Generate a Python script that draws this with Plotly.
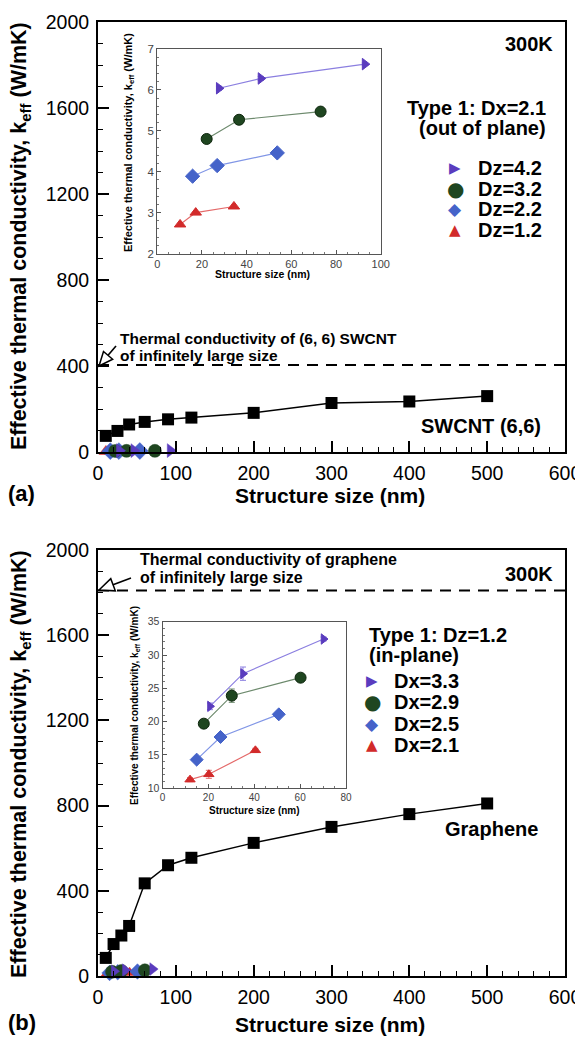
import plotly.graph_objects as go
import math

# ---------------- data ----------------
swcnt_size = [10, 25, 40, 60, 90, 120, 200, 300, 400, 500]
swcnt_k = [75, 98, 128, 140, 152, 160, 182, 228, 235, 260]
swcnt_inf = 405

graphene_size = [10, 20, 30, 40, 60, 90, 120, 200, 300, 400, 500]
graphene_k = [85, 150, 190, 235, 435, 520, 555, 625, 700, 760, 810]
graphene_inf = 1810

# inset (a): Type 1, Dx=2.1 (out of plane)
dz42_size = [27.6, 46.3, 92.9]
dz42_k = [6.04, 6.28, 6.63]
dz42_err = [0.05, 0.05, 0.03]
dz32_size = [22.1, 36.6, 73.1]
dz32_k = [4.80, 5.27, 5.47]
dz22_size = [15.8, 26.8, 53.7]
dz22_k = [3.89, 4.15, 4.46]
dz12_size = [10.2, 17.2, 34.3]
dz12_k = [2.71, 3.00, 3.15]

# inset (b): Type 1, Dz=1.2 (in-plane)
dx33_size = [20.7, 35.1, 70.2]
dx33_k = [22.3, 27.2, 32.4]
dx33_err = [0.5, 1.0, 0.3]
dx29_size = [18.0, 30.2, 60.2]
dx29_k = [19.7, 23.9, 26.6]
dx29_err = [0.3, 1.0, 0.3]
dx25_size = [14.9, 25.3, 50.7]
dx25_k = [14.3, 17.7, 21.1]
dx25_err = [0.3, 0.3, 0.3]
dx21_size = [12.0, 20.2, 40.5]
dx21_k = [11.3, 12.1, 15.7]
dx21_err = [0.3, 0.6, 0.3]

labels_a = ["Dz=4.2", "Dz=3.2", "Dz=2.2", "Dz=1.2"]
labels_b = ["Dx=3.3", "Dx=2.9", "Dx=2.5", "Dx=2.1"]

# ---------------- styles ----------------
PURPLE, PURPLE_L = "#5a3cbe", "#8b7fe0"
GREEN, GREEN_L = "#1f4620", "#6d8a6d"
BLUE, BLUE_L = "#4563c9", "#8196e6"
RED, RED_L = "#d22a2a", "#e46a6a"

OFF = 8  # page body margin
W, H = 583 - OFF, 1039 - OFF
ML, MR, MT, MB = 98 - OFF, 18, 22 - OFF, 63
PW = W - ML - MR
PH = H - MT - MB
FONT = "Liberation Sans, Arial, sans-serif"


def px(x):
    return (x - OFF - ML) / PW


def py(y):
    return (H - MB - (y - OFF)) / PH


fig = go.Figure()

series_a = [
    (dz42_size, dz42_k, PURPLE, PURPLE_L, "triangle-right", 10, dz42_err),
    (dz32_size, dz32_k, GREEN, GREEN_L, "circle", 11, None),
    (dz22_size, dz22_k, BLUE, BLUE_L, "diamond", 11, None),
    (dz12_size, dz12_k, RED, RED_L, "triangle-up", 10, None),
]
series_b = [
    (dx33_size, dx33_k, PURPLE, PURPLE_L, "triangle-right", 9, dx33_err),
    (dx29_size, dx29_k, GREEN, GREEN_L, "circle", 11, dx29_err),
    (dx25_size, dx25_k, BLUE, BLUE_L, "diamond", 10, dx25_err),
    (dx21_size, dx21_k, RED, RED_L, "triangle-up", 9, dx21_err),
]

# ---- panel (a) main ----
for xs, ys, c, cl, sym, sz, err in reversed(series_a):
    fig.add_trace(go.Scatter(x=xs, y=ys, mode="markers", xaxis="x", yaxis="y",
                             cliponaxis=False,
                             marker=dict(symbol=sym, size=sz + 2, color=c,
                                         line=dict(color=c, width=0.5))))
fig.add_trace(go.Scatter(x=swcnt_size, y=swcnt_k, mode="lines+markers", xaxis="x", yaxis="y",
                         line=dict(color="black", width=1.5), cliponaxis=False,
                         marker=dict(symbol="square", size=12, color="black")))

# ---- panel (b) main ----
fig.add_trace(go.Scatter(x=graphene_size, y=graphene_k, mode="lines+markers", xaxis="x2", yaxis="y2",
                         line=dict(color="black", width=1.5), cliponaxis=False,
                         marker=dict(symbol="square", size=12, color="black")))
for xs, ys, c, cl, sym, sz, err in reversed(series_b):
    fig.add_trace(go.Scatter(x=xs, y=ys, mode="markers", xaxis="x2", yaxis="y2",
                             cliponaxis=False,
                             marker=dict(symbol=sym, size=sz + 2, color=c,
                                         line=dict(color=c, width=0.5))))

# ---- insets ----
for (series, xa, ya) in [(series_a, "x3", "y3"), (series_b, "x4", "y4")]:
    for xs, ys, c, cl, sym, sz, err in series:
        ey = None
        if err is not None:
            ey = dict(type="data", array=err, visible=True, color=cl, thickness=1, width=3)
        fig.add_trace(go.Scatter(x=xs, y=ys, mode="lines+markers", xaxis=xa, yaxis=ya,
                                 error_y=ey, cliponaxis=False,
                                 line=dict(color=cl, width=1.2),
                                 marker=dict(symbol=sym, size=sz, color=c,
                                             line=dict(color="#0d260d" if c == GREEN else c, width=1))))


def main_axis(domain, anchor, rng, dtick, minor_dtick):
    return dict(domain=domain, anchor=anchor, range=rng, dtick=dtick, tick0=0,
                showline=True, linewidth=2, linecolor="black", mirror=True,
                ticks="inside", ticklen=11, tickwidth=2, tickcolor="black",
                minor=dict(ticks="inside", ticklen=5, tickwidth=1.2, dtick=minor_dtick,
                           tickcolor="black"),
                showgrid=False, zeroline=False, automargin=False,
                tickfont=dict(size=19.5, color="black", family=FONT),
                ticklabelstandoff=3)


def inset_axis(domain, anchor, rng, dtick, minor_dtick, fs):
    return dict(domain=domain, anchor=anchor, range=rng, dtick=dtick, tick0=0,
                showline=True, linewidth=1, linecolor="#555", mirror=True,
                ticks="inside", ticklen=4, tickwidth=1, tickcolor="#555",
                minor=dict(ticks="inside", ticklen=2, tickwidth=0.8, dtick=minor_dtick,
                           tickcolor="#777"),
                showgrid=False, zeroline=False, automargin=False,
                tickfont=dict(size=fs, color="#444", family=FONT),
                ticklabelstandoff=0)


ya_dom = [py(452), py(22)]
yb_dom = [py(976), py(550)]
fig.update_layout(
    width=W, height=H,
    margin=dict(l=ML, r=MR, t=MT, b=MB),
    paper_bgcolor="white", plot_bgcolor="white",
    showlegend=False,
    font=dict(family=FONT, color="black"),
    xaxis=main_axis([0, 1], "y", [0, 600], 100, 20),
    yaxis=main_axis(ya_dom, "x", [0, 2000], 400, 100),
    xaxis2=main_axis([0, 1], "y2", [0, 600], 100, 20),
    yaxis2=main_axis(yb_dom, "x2", [0, 2000], 400, 100),
    xaxis3=inset_axis([px(157.3), px(380.7)], "y3", [0, 100], 20, 5, 11),
    yaxis3=inset_axis([py(253.5), py(49)], "x3", [2, 7], 1, 0.2, 11.5),
    xaxis4=inset_axis([px(162.5), px(346)], "y4", [0, 80], 20, 5, 10),
    yaxis4=inset_axis([py(788.3), py(621.7)], "x4", [10, 35], 5, 1, 10.5),
)

# dashed reference lines
fig.add_shape(type="line", xref="x", yref="y", x0=0, x1=600, y0=swcnt_inf, y1=swcnt_inf,
              line=dict(color="black", width=2, dash="11px,8px"))
fig.add_shape(type="line", xref="x2", yref="y2", x0=0, x1=600, y0=graphene_inf, y1=graphene_inf,
              line=dict(color="black", width=2, dash="11px,8px"))


def hollow_arrow(tail, tip, L=14, hw=6):
    dx, dy = tip[0] - tail[0], tip[1] - tail[1]
    n = math.hypot(dx, dy)
    ux, uy = dx / n, dy / n
    bx, by = tip[0] - L * ux, tip[1] - L * uy
    p1 = (bx - hw * uy, by + hw * ux)
    p2 = (bx + hw * uy, by - hw * ux)
    fig.add_shape(type="line", xref="paper", yref="paper",
                  x0=px(tail[0]), y0=py(tail[1]), x1=px(bx), y1=py(by),
                  line=dict(color="black", width=1.6))
    path = "M {} {} L {} {} L {} {} Z".format(px(tip[0]), py(tip[1]), px(p1[0]), py(p1[1]),
                                              px(p2[0]), py(p2[1]))
    fig.add_shape(type="path", xref="paper", yref="paper", path=path,
                  fillcolor="white", line=dict(color="black", width=1.5))


hollow_arrow((116, 346), (99, 366))
hollow_arrow((131, 578), (99, 590), L=15, hw=6.5)


def text(x, y, s, size, xanchor="left", bold=True, color="black", angle=0, family=FONT):
    fig.add_annotation(x=px(x), y=py(y), xref="paper", yref="paper",
                       text=("<b>%s</b>" % s) if bold else s,
                       showarrow=False, xanchor=xanchor, yanchor="middle", textangle=angle,
                       font=dict(size=size, color=color, family=family))


# panel a texts
text(555, 44, "300K", 20, "right")
text(548, 108, "Type 1: Dx=2.1", 20, "right")
text(548, 128, "(out of plane)", 20, "right")
syms = ["▶", "●", "◆", "▲"]
sym_sizes = [15, 20, 17, 15]
cols = [PURPLE, GREEN, BLUE, RED]
for i, (lab, s, ss, c) in enumerate(zip(labels_a, syms, sym_sizes, cols)):
    yy = 168 + i * 20.7
    text(455, yy, s, ss, "center", bold=False, color=c, family="DejaVu Sans")
    text(476, yy, lab, 20, "left")
text(543, 426, "SWCNT (6,6)", 20, "right")
text(118, 339, "Thermal conductivity of (6, 6) SWCNT", 15.5, "left")
text(118, 355, "of infinitely large size", 15.5, "left")

# panel b texts
text(555, 574, "300K", 20, "right")
text(138, 559, "Thermal conductivity of graphene", 16, "left")
text(138, 577, "of infinitely large size", 16, "left")
text(367, 635, "Type 1: Dz=1.2", 20, "left")
text(367, 655, "(in-plane)", 20, "left")
for i, (lab, s, ss, c) in enumerate(zip(labels_b, syms, sym_sizes, cols)):
    yy = 681 + i * 21.3
    text(372, yy, s, ss, "center", bold=False, color=c, family="DejaVu Sans")
    text(392, yy, lab, 20, "left")
text(540, 829, "Graphene", 20, "right")

# axis titles
ytitle = "Effective thermal conductivity, k<sub>eff</sub> (W/mK)"
text(20, 236, ytitle, 21.5, "center", angle=-90)
text(20, 764, ytitle, 21.5, "center", angle=-90)
text(330, 495, "Structure size (nm)", 21, "center")
text(330, 1024, "Structure size (nm)", 21, "center")
text(6, 493, "(a)", 22, "left")
text(6, 1022, "(b)", 22, "left")

# inset titles
text(129, 143, ytitle, 11, "center", angle=-90)
text(262, 274, "Structure size (nm)", 10.5, "center")
text(135, 706, ytitle, 10, "center", angle=-90)
text(254, 810, "Structure size (nm)", 10, "center")

fig.write_html("out.html")
